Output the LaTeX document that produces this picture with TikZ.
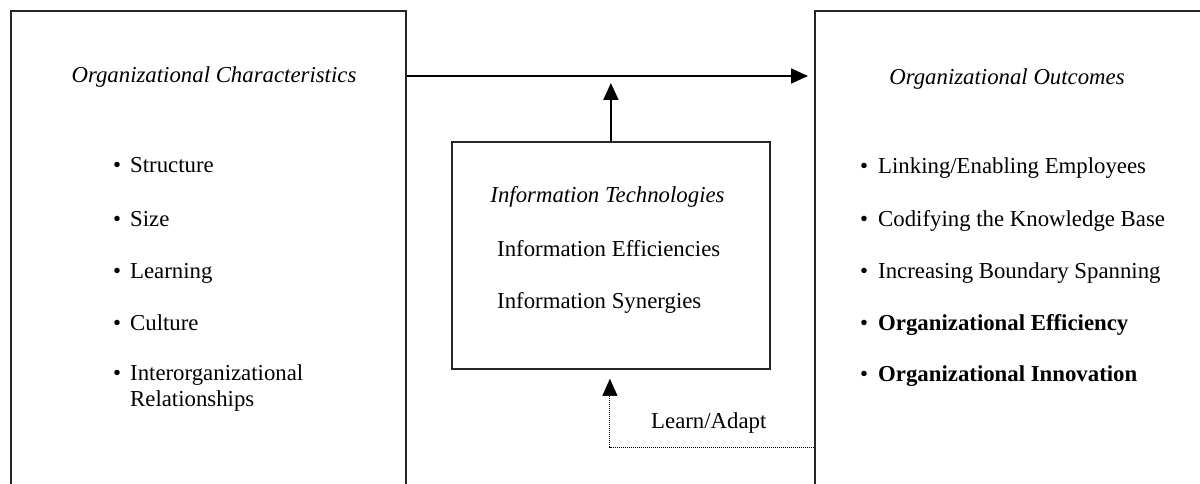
\documentclass[tikz,border=0pt]{standalone}
\usepackage{fontspec}
\setmainfont{Liberation Serif}
\usetikzlibrary{arrows.meta}
\begin{document}
\begin{tikzpicture}[x=1pt,y=-1pt,
  box/.style={draw=black!85, line width=1.8pt, anchor=north west, inner sep=0pt},
  txt/.style={font=\fontsize{22.8}{26}\selectfont, inner sep=0pt, anchor=base west},
  ttl/.style={font=\fontsize{22.8}{26}\selectfont\itshape, inner sep=0pt, anchor=base},
  arr/.style={line width=1.8pt, -{Triangle[length=17pt,width=15pt]}},
  darr/.style={line width=1pt, densely dotted, -{Triangle[length=17pt,width=15pt,line width=0.5pt]}}]
\useasboundingbox (0,0) rectangle (1200,484);
\clip (0,0) rectangle (1200,484);
\fill[white] (0,0) rectangle (1200,484);
% boxes
\node[box, minimum width=395pt, minimum height=520pt] (lbox) at (10,10) {};
\node[box, minimum width=420pt, minimum height=520pt] (rbox) at (814,10) {};
\node[box, minimum width=318pt, minimum height=227pt] (mbox) at (451,141) {};
% connectors
\coordinate (upend) at (610,83);
\draw[arr, shorten >=6pt] (lbox.east |- 0,76) -- (rbox.west |- 0,76);
\draw[arr] (mbox.north) -- (mbox.north |- upend);
\draw[darr, shorten >=9pt] (rbox.west |- 0,447) -| ([xshift=-1pt]mbox.south);
% left texts
\node[ttl] (lt) at (214,83) {Organizational Characteristics};
\node[txt] (l1) at (113,173) {\makebox[17pt][l]{\textbullet}Structure};
\node[txt] (l2) at (113,226) {\makebox[17pt][l]{\textbullet}Size};
\node[txt] (l3) at (113,278) {\makebox[17pt][l]{\textbullet}Learning};
\node[txt] (l4) at (113,330) {\makebox[17pt][l]{\textbullet}Culture};
\node[txt] (l5) at (113,380) {\makebox[17pt][l]{\textbullet}Interorganizational};
\node[txt] (l6) at (130,406) {Relationships};
% middle texts
\node[ttl] (mt) at (607.5,203) {Information Technologies};
\node[txt] (m1) at (497,256) {Information Efficiencies};
\node[txt] (m2) at (497,308) {Information Synergies};
\node[txt] (la) at (651,428) {Learn/Adapt};
% right texts
\node[ttl] (rt) at (1007,85) {Organizational Outcomes};
\node[txt] (r1) at (860,174) {\makebox[18pt][l]{\textbullet}Linking/Enabling Employees};
\node[txt] (r2) at (860,226) {\makebox[18pt][l]{\textbullet}Codifying the Knowledge Base};
\node[txt] (r3) at (860,278) {\makebox[18pt][l]{\textbullet}Increasing Boundary Spanning};
\node[txt] (r4) at (860,330) {\makebox[18pt][l]{\textbullet}\textbf{Organizational Efficiency}};
\node[txt] (r5) at (860,381) {\makebox[18pt][l]{\textbullet}\textbf{Organizational Innovation}};
\end{tikzpicture}
\end{document}
